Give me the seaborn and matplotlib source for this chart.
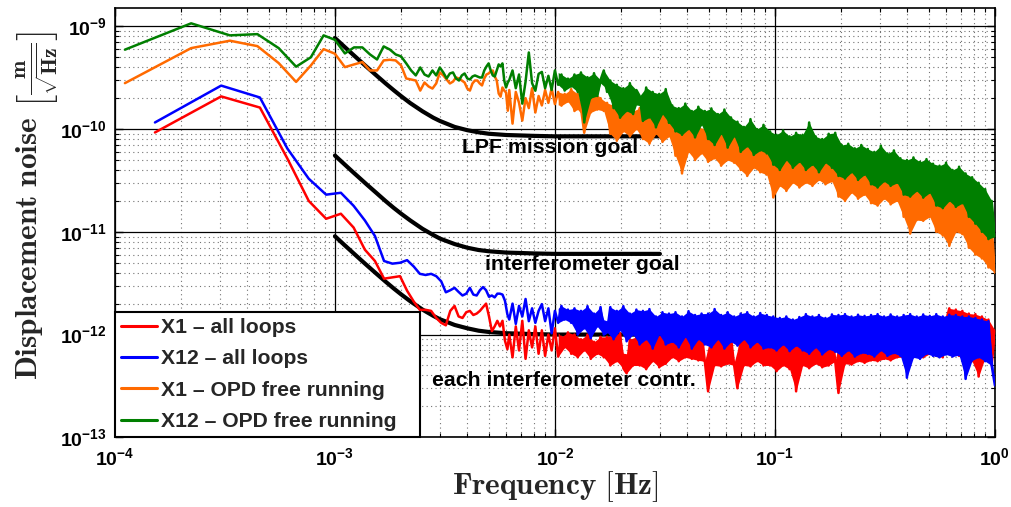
import numpy as np
import pandas as pd
import matplotlib
matplotlib.use("Agg")
import matplotlib.pyplot as plt
from matplotlib.ticker import FixedLocator, LogLocator, NullFormatter
import seaborn as sns

# ---------------------------------------------------------------------------
# Amplitude spectral densities, in pm/sqrt(Hz)
# Low-frequency part: one value per FFT bin (bin k sits at k * bin width)
# High-frequency part: values on a common logarithmic frequency grid
# ---------------------------------------------------------------------------
OPD_BIN_WIDTH = 1.11e-4    # Hz, OPD free-running runs
LOOP_BIN_WIDTH = 1.52e-4   # Hz, all-loops runs
DENSE_FREQ = np.geomspace(6.2e-3, 1.0, 150)
BAND_START = 1.0e-2        # above this the spectra are drawn as a dense band

X12_OPD_BINS = [593, 1070, 817, 840, 614, 405, 500, 817, 740, 545,
                624, 624, 533, 476, 638, 595, 533, 510, 436, 372,
                333, 398, 340, 325, 372, 333, 398, 356, 311, 348,
                356, 311, 297, 333, 348, 311, 304, 325, 333, 325,
                318, 318, 372, 407, 436, 372, 333, 325, 372, 426,
                407, 436, 297, 254, 284]
X12_OPD_DENSE = [300, 372, 250, 340, 177, 290, 557, 280, 236, 345,
                 360, 250, 330, 240, 372, 270, 340, 237, 310, 260,
                 340, 230, 356, 116, 320, 200, 350, 210, 300, 372,
                 230, 297, 160, 270, 129, 250, 150, 280, 140, 240,
                 210, 120, 254, 130, 230, 104, 220, 140, 245, 115,
                 170, 95, 160, 88, 177, 100, 150, 83, 165, 110,
                 150, 80, 159, 70, 140, 90, 155, 66, 130, 85,
                 118, 60, 105, 68, 125, 56, 100, 62, 110, 58,
                 95, 45, 88, 40, 97, 50, 85, 42, 92, 48,
                 88, 40, 116, 45, 85, 38, 80, 47, 90, 42,
                 92, 35, 70, 33, 72, 38, 65, 32, 70, 36,
                 64, 29, 60, 27, 69, 31, 58, 28, 62, 30,
                 52, 23, 50, 22, 53, 25, 48, 21.5, 51, 24,
                 46, 18, 44, 17, 47, 20, 40, 17.5, 43, 19,
                 37, 14, 34, 12, 30, 10, 26, 8.5, 20, 9]

X1_OPD_BINS = [280, 614, 725, 642, 439, 288, 416, 600, 542, 401,
               426, 449, 372, 372, 466, 473, 466, 417, 311, 304,
               297, 237, 284, 260, 248, 278, 356, 333, 304, 278,
               290, 318, 311, 297, 284, 248, 237, 278, 297, 297,
               278, 266, 311, 340, 348, 364, 372, 325, 297, 222,
               207, 254, 237, 227, 151]
X1_OPD_DENSE = [240, 113, 230, 180, 121, 200, 160, 250, 145, 210,
                170, 240, 180, 249, 175, 230, 169, 220, 185, 245,
                150, 220, 160, 92, 210, 145, 237, 155, 200, 150,
                180, 90, 170, 77, 160, 95, 190, 85, 150, 100,
                160, 80, 150, 72, 170, 90, 140, 75, 155, 85,
                115, 55, 110, 37, 121, 60, 100, 50, 105, 58,
                100, 48, 108, 52, 95, 44, 90, 50, 100, 47,
                85, 40, 80, 35, 86, 42, 75, 38, 80, 36,
                65, 21.6, 60, 28, 69, 25, 55, 30, 62, 27,
                60, 30, 55, 28, 62, 32, 50, 29, 58, 31,
                48, 22, 45, 20, 49, 24, 42, 21, 46, 23,
                42, 19, 40, 18, 44, 21, 38, 18.5, 41, 20,
                34, 14, 32, 9.6, 35, 13, 30, 12.8, 33, 14,
                27, 10, 25, 9.2, 28, 7.3, 24, 10, 26, 9.5,
                20, 7, 18, 6, 17, 5.5, 14, 4.5, 11, 4]

X12_LOOPS_BINS = [116, 265, 203, 64.6, 32.9, 23, 24, 17.9, 12.9, 9.1,
                  5.2, 4.9, 5.0, 5.3, 4.6, 3.9, 3.8, 3.9, 3.7, 3.3,
                  2.58, 2.7, 2.85, 2.6, 2.4, 2.5, 2.85, 2.45, 2.4, 2.7,
                  2.9, 2.7, 2.33, 2.4, 2.3, 2.5, 2.5, 2.45, 2.13, 1.57]
X12_LOOPS_DENSE = [1.4, 2.0, 1.27, 1.9, 1.5, 2.22, 1.35, 1.8, 1.3, 1.7,
                   1.98, 1.35, 1.8, 1.03, 1.7, 1.3, 1.9, 1.4, 1.75, 1.3,
                   1.8, 1.0, 1.7, 1.15, 1.89, 0.92, 1.6, 1.2, 1.85, 1.0,
                   1.05, 1.85, 0.9, 1.7, 1.1, 1.89, 0.86, 1.6, 1.0, 1.75,
                   0.8, 1.7, 0.9, 1.77, 0.73, 1.5, 1.0, 1.65, 0.8, 1.6,
                   0.85, 1.65, 0.75, 1.5, 0.95, 1.69, 0.73, 1.55, 0.9, 1.6,
                   0.8, 1.6, 0.75, 1.77, 0.9, 1.55, 0.73, 1.65, 0.85, 1.5,
                   0.78, 1.6, 0.9, 1.65, 0.75, 1.5, 0.85, 1.62, 0.73, 1.55,
                   0.75, 1.5, 0.7, 1.45, 0.8, 1.5, 0.69, 1.4, 0.78, 1.48,
                   0.7, 1.58, 0.65, 1.5, 0.75, 1.55, 0.64, 1.45, 0.72, 1.57,
                   0.68, 1.55, 0.62, 1.58, 0.7, 1.5, 0.61, 1.56, 0.66, 1.52,
                   0.65, 1.55, 0.61, 1.58, 0.7, 1.5, 0.62, 1.57, 0.66, 1.5,
                   0.62, 1.55, 0.38, 1.58, 0.6, 1.5, 0.58, 1.57, 0.65, 1.52,
                   0.62, 1.58, 0.6, 1.5, 0.64, 1.56, 0.61, 1.55, 0.63, 1.5,
                   0.37, 1.5, 0.56, 1.45, 0.6, 1.4, 0.55, 1.35, 0.5, 0.32]

X1_LOOPS_BINS = [92.7, 208, 162, 51.6, 20, 13.4, 15.0, 11.0, 6.7, 5.2,
                 3.5, 3.6, 3.7, 2.67, 2.1, 1.74, 1.74, 1.7, 1.45, 1.3,
                 1.23, 1.7, 1.9, 1.5, 1.45, 1.65, 1.7, 1.55, 1.6, 1.7,
                 1.85, 2.0, 1.5, 1.08, 1.2, 1.36, 1.2, 1.36, 0.87, 0.72]
X1_LOOPS_DENSE = [1.0, 0.6, 1.2, 0.7, 1.36, 0.58, 1.1, 0.75, 1.2, 0.65,
                  1.1, 0.62, 1.0, 0.7, 1.15, 0.61, 0.95, 0.75, 1.05, 0.65,
                  1.0, 0.6, 0.9, 0.7, 1.0, 0.58, 0.85, 0.65, 0.95, 0.6,
                  0.95, 0.5, 1.0, 0.55, 1.03, 0.47, 0.42, 0.9, 0.5, 0.95,
                  0.5, 1.0, 0.46, 0.9, 0.55, 0.95, 0.48, 1.0, 0.52, 0.9,
                  0.6, 1.05, 0.55, 1.08, 0.6, 0.95, 0.58, 1.0, 0.56, 1.05,
                  0.55, 0.28, 1.05, 0.5, 1.0, 0.49, 1.08, 0.52, 0.95, 0.5,
                  0.30, 1.0, 0.5, 1.03, 0.49, 0.95, 0.55, 1.0, 0.5, 0.98,
                  0.5, 1.1, 0.44, 1.2, 0.5, 1.0, 0.46, 1.22, 0.28, 1.1,
                  0.5, 1.15, 0.47, 1.2, 0.52, 1.1, 0.48, 1.22, 0.5, 1.15,
                  0.55, 0.27, 1.2, 0.52, 1.15, 0.51, 1.22, 0.55, 1.1, 0.53,
                  1.2, 0.56, 1.15, 0.55, 1.22, 0.58, 1.1, 0.56, 1.2, 0.6,
                  1.3, 0.6, 1.2, 0.58, 1.25, 0.62, 1.3, 0.6, 1.2, 0.65,
                  1.3, 0.62, 1.4, 0.6, 1.35, 1.8, 0.65, 1.75, 0.62, 1.7,
                  0.6, 1.6, 0.55, 1.58, 0.39, 1.5, 0.6, 1.4, 0.5, 1.1]

# Requirement curves (pm/sqrt(Hz))
GOAL_FREQ = [1.0e-3, 1.1e-3, 1.2e-3, 1.3e-3, 1.4e-3, 1.55e-3, 1.7e-3, 1.85e-3,
             2.0e-3, 2.2e-3, 2.5e-3, 2.8e-3, 3.0e-3, 3.5e-3, 4.0e-3, 4.5e-3,
             5.0e-3, 6.0e-3, 7.0e-3, 8.0e-3, 1.0e-2, 3.0e-2]
LPF_GOAL = [770, 638, 538, 461, 400, 330, 278, 239, 209, 179, 149, 129,
            120, 105, 97.5, 93, 90.1, 87.6, 86.7, 85.9, 85, 85]
IFO_GOAL = [55.3, 45.8, 38.6, 33.1, 28.7, 23.7, 19.9, 17.1, 15.0, 12.9, 10.7,
            9.3, 8.6, 7.6, 7.0, 6.65, 6.47, 6.28, 6.22, 6.16, 6.1, 6.1]
EACH_IFO_GOAL = [9.06, 7.50, 6.33, 5.42, 4.70, 3.88, 3.27, 2.81, 2.46, 2.11,
                 1.75, 1.52, 1.41, 1.24, 1.15, 1.09, 1.06, 1.03, 1.02, 1.01,
                 1.0, 1.0]

LEGEND_LABELS = ["X1 \u2013 all loops", "X12 \u2013 all loops",
                 "X1 \u2013 OPD free running", "X12 \u2013 OPD free running"]
GOAL_LABELS = ["LPF mission goal", "interferometer goal",
               "each interferometer contr."]
X_TICKS = [1e-4, 1e-3, 1e-2, 1e-1, 1.0]
X_TICK_LABELS = [r"$\mathbf{10^{-4}}$", r"$\mathbf{10^{-3}}$",
                 r"$\mathbf{10^{-2}}$", r"$\mathbf{10^{-1}}$",
                 r"$\mathbf{10^{0}}$"]
Y_TICKS = [1e-13, 1e-12, 1e-11, 1e-10, 1e-9]
Y_TICK_LABELS = [r"$\mathbf{10^{-13}}$", r"$\mathbf{10^{-12}}$",
                 r"$\mathbf{10^{-11}}$", r"$\mathbf{10^{-10}}$",
                 r"$\mathbf{10^{-9}}$"]

PM = 1e-12


def spectrum(bin_width, bins, dense):
    freq = np.concatenate([bin_width * np.arange(1, len(bins) + 1), DENSE_FREQ])
    asd = PM * np.concatenate([np.asarray(bins, float), np.asarray(dense, float)])
    return pd.DataFrame({"freq": freq, "asd": asd})


def peak_trough_band(values):
    """Lower/upper hull of a jagged trace: each sample paired with the
    log-mean of its two neighbours, so the polygon spans peaks and troughs."""
    v = np.log(np.asarray(values, float))
    neigh = v.copy()
    neigh[1:-1] = 0.5 * (v[:-2] + v[2:])
    return np.exp(np.minimum(v, neigh)), np.exp(np.maximum(v, neigh))


sns.set_theme(style="white")
plt.rcParams["font.family"] = ["Liberation Sans", "DejaVu Sans"]
plt.rcParams["mathtext.fontset"] = "custom"
plt.rcParams["mathtext.rm"] = "Liberation Sans:bold"
plt.rcParams["mathtext.bf"] = "Liberation Sans:bold"
plt.rcParams["mathtext.it"] = "Liberation Sans:bold"

fig = plt.figure(figsize=(10.11, 5.07), dpi=100)
ax = fig.add_axes([0.1137, 0.1375, 0.8704, 0.8462])
ax.set_xscale("log")
ax.set_yscale("log")

# requirement curves
goal_df = pd.DataFrame({"freq": GOAL_FREQ})
for goal in (LPF_GOAL, IFO_GOAL, EACH_IFO_GOAL):
    goal_df["asd"] = PM * np.asarray(goal, float)
    sns.lineplot(data=goal_df, x="freq", y="asd", color="black", lw=3.0,
                 estimator=None, sort=False, legend=False, ax=ax, zorder=3)

series = [
    (LEGEND_LABELS[0], "#ff0000", X1_LOOPS_DENSE,
     spectrum(LOOP_BIN_WIDTH, X1_LOOPS_BINS, X1_LOOPS_DENSE)),
    (LEGEND_LABELS[1], "#0000ff", X12_LOOPS_DENSE,
     spectrum(LOOP_BIN_WIDTH, X12_LOOPS_BINS, X12_LOOPS_DENSE)),
    (LEGEND_LABELS[2], "#ff6a00", X1_OPD_DENSE,
     spectrum(OPD_BIN_WIDTH, X1_OPD_BINS, X1_OPD_DENSE)),
    (LEGEND_LABELS[3], "#007f00", X12_OPD_DENSE,
     spectrum(OPD_BIN_WIDTH, X12_OPD_BINS, X12_OPD_DENSE)),
]
band_mask = DENSE_FREQ >= BAND_START
handles = []
for i, (label, color, dense, df) in enumerate(series):
    z = 4 + i
    lo, hi = peak_trough_band(dense)
    ax.fill_between(DENSE_FREQ[band_mask], PM * lo[band_mask], PM * hi[band_mask],
                    color=color, lw=0, zorder=z)
    sns.lineplot(data=df, x="freq", y="asd", color=color, lw=1.8,
                 estimator=None, sort=False, legend=False, ax=ax, zorder=z)
    line = ax.lines[-1]
    line.set_label(label)
    handles.append(line)

ax.set_xlim(1e-4, 1.0)
ax.set_ylim(1e-13, 1.5e-9)

ax.xaxis.set_major_locator(FixedLocator(X_TICKS))
ax.set_xticklabels(X_TICK_LABELS)
ax.yaxis.set_major_locator(FixedLocator(Y_TICKS))
ax.set_yticklabels(Y_TICK_LABELS)
for axis in (ax.xaxis, ax.yaxis):
    axis.set_minor_locator(LogLocator(base=10, subs=np.arange(2, 10), numticks=20))
    axis.set_minor_formatter(NullFormatter())

ax.tick_params(which="both", direction="in", top=True, right=True,
               bottom=True, left=True, colors="black", labelsize=14)
ax.tick_params(which="major", length=6, width=1.0)
ax.tick_params(which="minor", length=3, width=0.8)
ax.tick_params(axis="x", pad=7)
ax.tick_params(axis="y", pad=6)

ax.grid(which="major", color="black", lw=0.9, ls="-")
ax.grid(which="minor", color="0.45", lw=0.8, ls=(0, (1, 3)))
ax.set_axisbelow(True)
for sp in ax.spines.values():
    sp.set_color("black")
    sp.set_linewidth(1.2)

ax.set_xlabel(r"$\mathbf{Frequency\ [Hz]}$", fontsize=22.5,
              math_fontfamily="cm", labelpad=0)
ax.set_ylabel(r"$\mathbf{Displacement\ noise}\ \left[\frac{\mathbf{m}}{\sqrt{\mathbf{Hz}}}\right]$",
              fontsize=22.5, math_fontfamily="cm")
ax.yaxis.set_label_coords(-0.061, 0.54)

text_kw = dict(fontsize=15.3, fontweight="bold", ha="left", va="center",
               color="black", zorder=9)
ax.text(3.78e-3, 6.65e-11, GOAL_LABELS[0], **text_kw)
ax.text(4.8e-3, 4.84e-12, GOAL_LABELS[1], **text_kw)
ax.text(2.76e-3, 3.6e-13, GOAL_LABELS[2], **text_kw)

leg = ax.legend(handles=handles, labels=LEGEND_LABELS, loc="lower left",
                bbox_to_anchor=(0, 0, 0.3466, 0.3), mode="expand",
                borderaxespad=0, frameon=True,
                fancybox=False, framealpha=1, edgecolor="black",
                prop={"weight": "bold", "size": 15.2}, handlelength=1.7,
                handletextpad=0.2, labelspacing=0.58, borderpad=0.3)
leg.get_frame().set_linewidth(1.5)
leg.set_zorder(10)
for h in leg.get_lines():
    h.set_linewidth(2.2)

fig.savefig("out.png", dpi=100)
